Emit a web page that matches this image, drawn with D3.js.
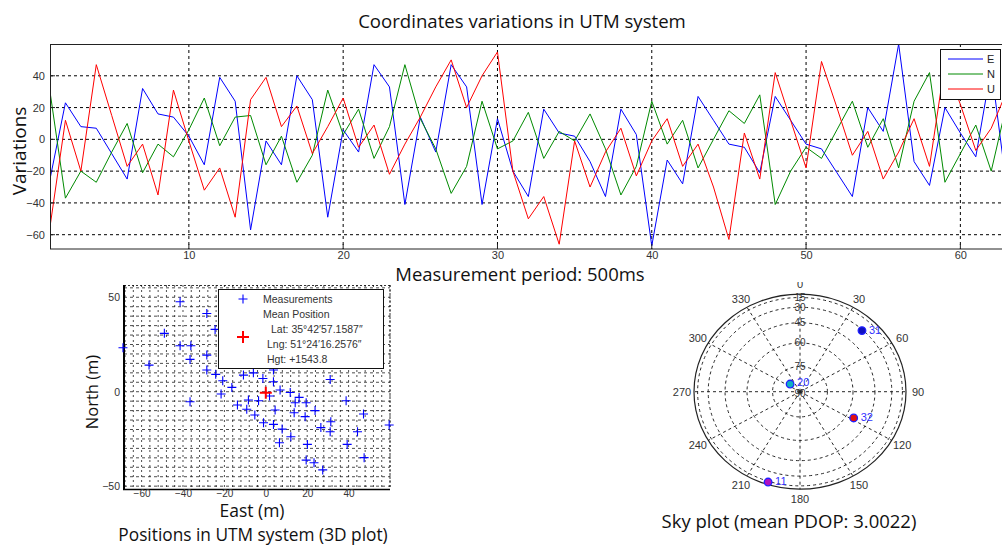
<!DOCTYPE html>
<html><head><meta charset="utf-8">
<script src="https://cdnjs.cloudflare.com/ajax/libs/d3/7.8.5/d3.min.js"></script>
<style>
html,body{margin:0;padding:0;background:#fff;}
svg{display:block;}
.tick text{font-family:"Liberation Sans",Arial,sans-serif;}
</style></head>
<body><svg id="c" width="1002" height="547"></svg>
<script>
// ---------- data ----------
const samples = d3.range(1, 64);
const seriesNames = ["E", "N", "U"];
const E = [-25,23,8,7,-9,-25,32,16,14,2, -16,39,24,-57,-1,-16,40,25,-49,6, -8,47,33,-41,14,-8,47,33,-41,13,
  -20,-36,19,4,2,-14,-36,19,3,-67, -13,-28,27,12,-3,-5,-21,27,12,-3, -6,-21,-36,20,5,60,-14,-29,20,4, -11,45,-30];
const N = [30,-37,-20,-27,-8,10,-21,-3,-11,6, 26,-4,14,15,-16,2,-27,-10,31,3, 19,-12,8,47,13,-6,-34,-17,24,-6,
  -1,17,-12,5,-1,16,-6,-35,-17,24, -3,12,-18,0,18,10,28,-41,-20,-5, -12,6,24,-5,13,-18,24,42,-27,-9, 9,-20,22];
const U = [-55,12,-20,47,15,-17,-3,-35,31,-1, -32,-18,-49,25,39,8,21,-9,8,26, -5,9,-22,-3,14,33,50,20,40,55,
  -20,-50,-36,-66,-1,-30,-8,7,-23,-1, 13,-17,-3,-30,-63,4,-25,42,12,-18, 49,20,-10,5,-25,-8,13,-17,48,22, -7,7,30];
const topXTicks = [10, 20, 30, 40, 50, 60];
const topYTicks = [-60, -40, -20, 0, 20, 40];

const posEast  = [-41.4,-28.5,-49,-24.5,-41.4,-36.2,-69,-28.5,-36.6,-56.4,-28.5,-24.2,-20.8,-16.4,-21.6,-10.8,-6,-1.4,3.7,3.7,
  6.9,11.8,1.8,16.1,14.2,19.5,-8.4,-3.5,-13.7,-9.2,-5.3,4.5,13.7,19,23.8,31.1,38.8,47.2,59.6,-1.1,
  3.7,7.9,12.1,20.1,26.6,31.4,31.1,44.3,39.3,6.6,19.5,23.3,27.5,47.5,-36.6];
const posNorth = [47.6,41.4,30.9,33,24.3,24.3,23.3,19.4,17.1,14.1,11.5,9.2,5.8,2.3,-1.2,8.8,10,7,5.3,11.5,
  0.9,-0.4,-2.3,-3,-5.8,-5.8,-4.4,-4.8,-7,-9.3,-12.3,-9.7,-11.1,-13.2,-10,6.5,-4.8,-11.8,-17.6,-16.4,
  -17.3,-19.8,-23.8,-27.9,-19,-15.9,-21.2,-21.2,-27.9,-27,-36.2,-37.6,-41.4,-34.9,-5.3];
const meanPos = [0, -0.5];
const posXTicks = [-60, -40, -20, 0, 20, 40];
const posYTicks = [-50, 0, 50];
const legendLines = ["Lat: 35\u00B042\u203257.1587\u2033", "Lng: 51\u00B024\u203216.2576\u2033", "Hgt: +1543.8"];

const satIds = ["31", "20", "32", "11"];
const satAz  = [43, 310, 118, 198];
const satEl  = [31, 83, 55, 13];
const satFill = ["#1010c0", "#10b0c0", "#e01010", "#b010c0"];
const azTicks = d3.range(0, 360, 30);
const elTicks = [15, 30, 45, 60, 75, 90];

// ---------- drawing ----------
const svg = d3.select("#c");
const sans = "'Open Sans', 'Noto Sans', sans-serif";
const arial = "'Liberation Sans', Arial, sans-serif";

// ===== top line chart =====
const tx = d3.scaleLinear().domain([1, 63]).range([50, 50 + 62 * 15.43]);
const ty = d3.scaleLinear().domain([-69, 60]).range([249, 44]);
const topG = svg.append("g");
topG.append("defs").append("clipPath").attr("id", "clipTop")
  .append("rect").attr("x", 50).attr("y", 44).attr("width", 960).attr("height", 205);

topG.append("g").selectAll("line").data(topYTicks).join("line")
  .attr("x1", 50).attr("x2", 1002).attr("y1", d => ty(d)).attr("y2", d => ty(d))
  .attr("stroke", "#000").attr("stroke-width", 1).attr("stroke-dasharray", "3,3");
topG.append("g").selectAll("line").data(topXTicks).join("line")
  .attr("x1", d => tx(d)).attr("x2", d => tx(d)).attr("y1", 44).attr("y2", 249)
  .attr("stroke", "#000").attr("stroke-width", 1).attr("stroke-dasharray", "3,3");

const lineGen = d3.line().x((d, i) => tx(samples[i])).y(d => ty(d));
const cols = {E: "#0000ff", N: "#008a00", U: "#ff0000"};
const seriesData = {E, N, U};
const lg = topG.append("g").attr("clip-path", "url(#clipTop)");
seriesNames.forEach(k => {
  lg.append("path").datum(seriesData[k]).attr("d", lineGen)
    .attr("fill", "none").attr("stroke", cols[k]).attr("stroke-width", 1);
});

topG.append("rect").attr("x", 50.5).attr("y", 44.5).attr("width", 980).attr("height", 204.5)
  .attr("fill", "none").attr("stroke", "#222").attr("stroke-width", 1);

const ax = d3.axisBottom(tx).tickValues(topXTicks).tickSize(0).tickPadding(2);
topG.append("g").attr("transform", "translate(0,249)").call(ax)
  .call(g => g.select(".domain").remove())
  .selectAll("text").attr("font-size", 11).attr("fill", "#333");
const ay = d3.axisLeft(ty).tickValues(topYTicks).tickSize(0).tickPadding(5);
topG.append("g").attr("transform", "translate(50,0)").call(ay)
  .call(g => g.select(".domain").remove())
  .selectAll("text").attr("font-size", 11).attr("fill", "#333");

topG.append("g").selectAll("line").data(topYTicks).join("line")
  .attr("x1", 50).attr("x2", 55).attr("y1", d => ty(d)).attr("y2", d => ty(d)).attr("stroke", "#222");
topG.append("g").selectAll("line").data(topXTicks).join("line")
  .attr("x1", d => tx(d)).attr("x2", d => tx(d)).attr("y1", 249).attr("y2", 244).attr("stroke", "#222");

svg.append("text").attr("x", 522).attr("y", 28).attr("text-anchor", "middle")
  .attr("font-family", sans).attr("font-size", 18.6).attr("fill", "#111")
  .text("Coordinates variations in UTM system");
svg.append("text").attr("transform", "translate(26,151) rotate(-90)").attr("text-anchor", "middle")
  .attr("font-family", sans).attr("font-size", 19).attr("fill", "#111").text("Variations");
svg.append("text").attr("x", 520).attr("y", 281).attr("text-anchor", "middle")
  .attr("font-family", sans).attr("font-size", 18.5).attr("fill", "#111").text("Measurement period: 500ms");

const leg = topG.append("g");
leg.append("rect").attr("x", 940.5).attr("y", 49.5).attr("width", 60).attr("height", 50)
  .attr("fill", "#fff").attr("stroke", "#111");
seriesNames.forEach((k, i) => {
  const yy = 59 + i * 15;
  leg.append("line").attr("x1", 948).attr("x2", 983).attr("y1", yy).attr("y2", yy).attr("stroke", cols[k]);
  leg.append("text").attr("x", 987).attr("y", yy + 4).attr("font-family", arial).attr("font-size", 11)
    .attr("fill", "#222").text(k);
});

// ===== positions scatter =====
const px = d3.scaleLinear().domain([-68.5, 60]).range([124, 390]);
const py = d3.scaleLinear().domain([-51.5, 56.5]).range([489, 285]);
const sc = svg.append("g");
const vGrid = d3.range(-68, 61, 4);
const hGrid = d3.range(-50, 56, 5);
sc.append("g").selectAll("line").data(vGrid).join("line")
  .attr("x1", d => px(d)).attr("x2", d => px(d)).attr("y1", 285).attr("y2", 489)
  .attr("stroke", "#000").attr("stroke-width", 0.7).attr("stroke-dasharray", "2,3");
sc.append("g").selectAll("line").data(hGrid).join("line")
  .attr("x1", 124).attr("x2", 390).attr("y1", d => py(d)).attr("y2", d => py(d))
  .attr("stroke", "#000").attr("stroke-width", 0.7).attr("stroke-dasharray", "3,3");
sc.append("line").attr("x1", 390).attr("x2", 390).attr("y1", 285).attr("y2", 489)
  .attr("stroke", "#000").attr("stroke-width", 0.8).attr("stroke-dasharray", "2,2");
sc.append("line").attr("x1", 124).attr("x2", 390).attr("y1", 285.5).attr("y2", 285.5)
  .attr("stroke", "#000").attr("stroke-width", 0.8).attr("stroke-dasharray", "2,2");
sc.append("line").attr("x1", 124).attr("x2", 124).attr("y1", 285).attr("y2", 490).attr("stroke", "#000").attr("stroke-width", 2);
sc.append("line").attr("x1", 123).attr("x2", 390).attr("y1", 489.5).attr("y2", 489.5).attr("stroke", "#000").attr("stroke-width", 1.5);

const plus = (g, x, y, s, c, w) => {
  g.append("path").attr("d", `M${x - s},${y}H${x + s}M${x},${y - s}V${y + s}`)
    .attr("stroke", c).attr("stroke-width", w).attr("fill", "none");
};
const pts = sc.append("g");
posEast.forEach((e, i) => plus(pts, px(e), py(posNorth[i]), 4.5, "#0000ff", 1.1));
plus(pts, px(meanPos[0]), py(meanPos[1]), 6, "#ff0000", 2);

const sxa = d3.axisBottom(px).tickValues(posXTicks).tickSize(0).tickPadding(0);
sc.append("g").attr("transform", "translate(0,490)").call(sxa)
  .call(g => g.select(".domain").remove())
  .selectAll("text").attr("font-size", 10).attr("fill", "#333");
const sya = d3.axisLeft(py).tickValues(posYTicks).tickSize(0).tickPadding(4);
sc.append("g").attr("transform", "translate(124,0)").call(sya)
  .call(g => g.select(".domain").remove())
  .selectAll("text").attr("font-size", 10.5).attr("fill", "#333");

const sl = sc.append("g");
sl.append("rect").attr("x", 218.5).attr("y", 289.5).attr("width", 165).attr("height", 79)
  .attr("fill", "#fff").attr("stroke", "#111");
plus(sl, 243, 299, 4.5, "#0000ff", 1.1);
plus(sl, 243, 337, 6, "#ff0000", 2);
const lt = (x, y, t) => sl.append("text").attr("x", x).attr("y", y).attr("font-family", arial)
  .attr("font-size", 10.5).attr("fill", "#333").text(t);
lt(263, 302.5, "Measurements");
lt(263, 317.5, "Mean Position");
lt(271, 333, legendLines[0]);
lt(267, 348, legendLines[1]);
lt(267, 363, legendLines[2]);

svg.append("text").attr("transform", "translate(98,392) rotate(-90)").attr("text-anchor", "middle")
  .attr("font-family", sans).attr("font-size", 16.5).attr("fill", "#111").text("North (m)");
svg.append("text").attr("x", 252).attr("y", 517).attr("text-anchor", "middle")
  .attr("font-family", sans).attr("font-size", 17.5).attr("fill", "#111").text("East (m)");
svg.append("text").attr("x", 253).attr("y", 541).attr("text-anchor", "middle")
  .attr("font-family", sans).attr("font-size", 17.3).attr("fill", "#111").text("Positions in UTM system (3D plot)");

// ===== sky plot =====
const cx = 800, cy = 391.7, RX = 106, RY = 97.5;
const rEl = d3.scaleLinear().domain([0, 1]).range([0, 1]); // radius fraction = cos(elevation)
const toXY = (az, el) => {
  const r = rEl(Math.cos(el * Math.PI / 180));
  const a = az * Math.PI / 180;
  return [cx + RX * r * Math.sin(a), cy - RY * r * Math.cos(a)];
};
const sky = svg.append("g");
sky.append("ellipse").attr("cx", cx).attr("cy", cy).attr("rx", RX).attr("ry", RY)
  .attr("fill", "#fff").attr("stroke", "#222").attr("stroke-width", 1.2);
sky.append("g").selectAll("ellipse").data(elTicks.filter(e => e < 90)).join("ellipse")
  .attr("cx", cx).attr("cy", cy)
  .attr("rx", e => RX * rEl(Math.cos(e * Math.PI / 180)))
  .attr("ry", e => RY * rEl(Math.cos(e * Math.PI / 180)))
  .attr("fill", "none").attr("stroke", "#111").attr("stroke-width", 0.9).attr("stroke-dasharray", "3,3");
sky.append("g").selectAll("line").data(azTicks).join("line")
  .attr("x1", cx).attr("y1", cy)
  .attr("x2", a => toXY(a, 0)[0]).attr("y2", a => toXY(a, 0)[1])
  .attr("stroke", "#111").attr("stroke-width", 0.9).attr("stroke-dasharray", "3,3");
sky.append("defs").append("clipPath").attr("id", "clipZero")
  .append("rect").attr("x", 640).attr("y", 282).attr("width", 360).attr("height", 240);
sky.append("g").attr("clip-path", "url(#clipZero)").selectAll("text").data(azTicks).join("text")
  .attr("x", a => cx + (RX + 12) * Math.sin(a * Math.PI / 180))
  .attr("y", a => cy - (RY + 10) * Math.cos(a * Math.PI / 180) + 4)
  .attr("text-anchor", "middle").attr("font-family", arial).attr("font-size", 11).attr("fill", "#333")
  .text(a => a);
sky.append("g").selectAll("text").data(elTicks).join("text")
  .attr("x", cx).attr("y", e => cy - RY * rEl(Math.cos(e * Math.PI / 180)) + (e === 90 ? 5 : 3.5))
  .attr("text-anchor", "middle").attr("font-family", arial).attr("font-size", 10).attr("fill", "#333")
  .text(e => e);
satIds.forEach((id, i) => {
  const [x, y] = toXY(satAz[i], satEl[i]);
  sky.append("circle").attr("cx", x).attr("cy", y).attr("r", 3.8)
    .attr("fill", satFill[i]).attr("stroke", "#2020ff").attr("stroke-width", 1.3);
  sky.append("text").attr("x", x + 7).attr("y", y + (id === "20" ? 1.5 : 3)).attr("font-family", arial).attr("font-size", 11)
    .attr("fill", "#3030ff").text(id);
});
svg.append("text").attr("x", 789).attr("y", 528).attr("text-anchor", "middle")
  .attr("font-family", sans).attr("font-size", 18.5).attr("fill", "#111").text("Sky plot (mean PDOP: 3.0022)");
</script></body></html>
